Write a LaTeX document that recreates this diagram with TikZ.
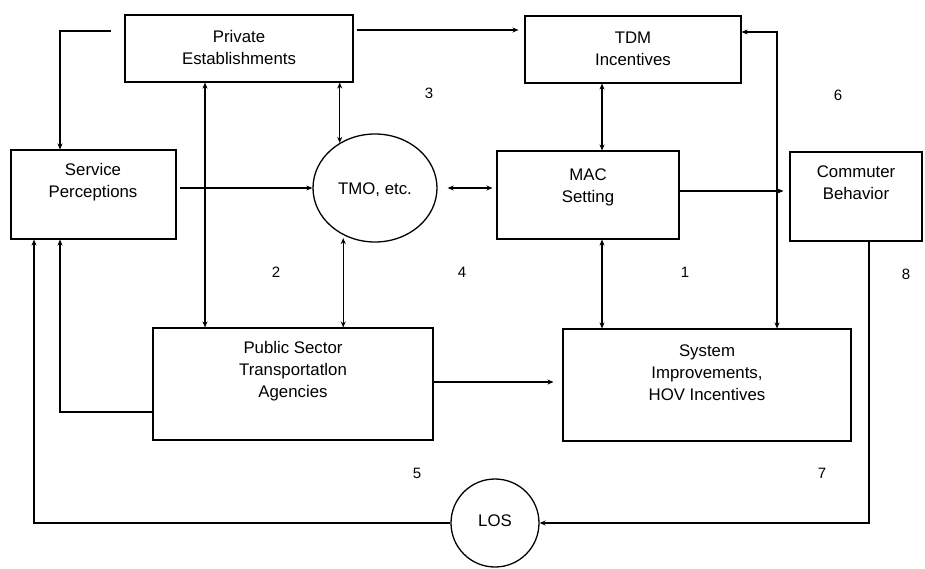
\documentclass[tikz,border=0pt]{standalone}
\usepackage{fontspec}
\setmainfont{Liberation Sans}
\usetikzlibrary{arrows.meta,shapes.geometric,calc}
\begin{document}
\begin{tikzpicture}[x=1pt,y=-1pt,
  box/.style={draw,line width=1.1pt,inner sep=0pt,rectangle},
  oval/.style={draw,line width=1.3pt,inner sep=0pt,ellipse},
  txt/.style={align=center,font=\fontsize{16.8}{22}\selectfont,inner sep=0pt},
  num/.style={font=\fontsize{15}{18}\selectfont,inner sep=0pt},
  con/.style={line width=1.3pt,-{Stealth[length=6pt,width=5pt]}},
  con2/.style={line width=1.3pt,{Stealth[length=6pt,width=5pt]}-{Stealth[length=6pt,width=5pt]}},
  line/.style={line width=1.3pt}]
\useasboundingbox (0,0) rectangle (925,569);
% boxes
\node[box,minimum width=228pt,minimum height=67pt] (pe) at (239,48.5) {};
\node[box,minimum width=216pt,minimum height=67pt] (td) at (633,49.5) {};
\node[box,minimum width=165pt,minimum height=89pt] (sp) at (93.5,194.5) {};
\node[oval,minimum width=124pt,minimum height=108pt] (tmo) at (375,188) {};
\node[box,minimum width=182pt,minimum height=88pt] (mac) at (588,195) {};
\node[box,minimum width=132pt,minimum height=89pt] (cb) at (856,196.5) {};
\node[box,minimum width=280pt,minimum height=112pt] (ps) at (293,384) {};
\node[box,minimum width=288pt,minimum height=112pt] (sy) at (707,385) {};
\node[oval,minimum width=88pt,minimum height=88pt] (los) at (495,523) {};
% texts
\node[txt] (tpe) at (239,47) {Private\\Establishments};
\node[txt] (ttd) at (633,49) {TDM\\Incentives};
\node[txt] (tsp) at (93,182) {Service\\Perceptions};
\node[txt] (ttmo) at (375,190) {TMO, etc.};
\node[txt] (tmac) at (588,187) {MAC\\Setting};
\node[txt] (tcb) at (856,183) {Commuter\\Behavior};
\node[txt] (tps) at (293,371) {Public Sector\\Transportatlon\\Agencies};
\node[txt] (tsy) at (707,373) {System\\Improvements,\\HOV Incentives};
\node[txt] (tlos) at (495,521) {LOS};
% numbers
\node[num] (n3) at (429,93) {3};
\node[num] (n6) at (838,95) {6};
\node[num] (n2) at (276,272) {2};
\node[num] (n4) at (462,272) {4};
\node[num] (n1) at (685,272) {1};
\node[num] (n8) at (906,274) {8};
\node[num] (n5) at (417,473) {5};
\node[num] (n7) at (822,473) {7};
% connectors
\draw[con] ([xshift=-13pt]pe.west |- 0,31) -| (sp.north -| 60,0);
\draw[con,shorten <=3pt,shorten >=6pt] (pe.east |- 0,30) -- (td.west |- 0,30);
\draw[con2] (pe.south -| 205,0) -- (ps.north -| 205,0);
\draw[con2] (pe.south -| tmo.128) -- (tmo.128);
\draw[con,shorten <=3pt] (sp.east |- tmo.west) -- (tmo.west);
\draw[con2,shorten <=10pt,shorten >=4pt] (tmo.east) -- (mac.west |- tmo.east);
\draw[con2] (td.south -| 602,0) -- (mac.north -| 602,0);
\draw[con,shorten >=6pt] (mac.east |- 0,191) -- (cb.west |- 0,191);
\draw[con2] (sy.north -| 777,0) |- (td.east |- 0,32);
\draw[con2] (mac.south -| 602,0) -- (sy.north -| 602,0);
\draw[con2,shorten <=3pt] (tmo.236) -- (ps.north -| tmo.236);
\draw[con,shorten >=9pt] (ps.east |- 0,382) -- (sy.west |- 0,382);
\draw[con] (ps.west |- 0,412) -| (sp.south -| 60,0);
\draw[con] (cb.south -| 869,0) |- (los.east);
\draw[con] (los.west) -| (sp.south -| 34,0);
\end{tikzpicture}
\end{document}
